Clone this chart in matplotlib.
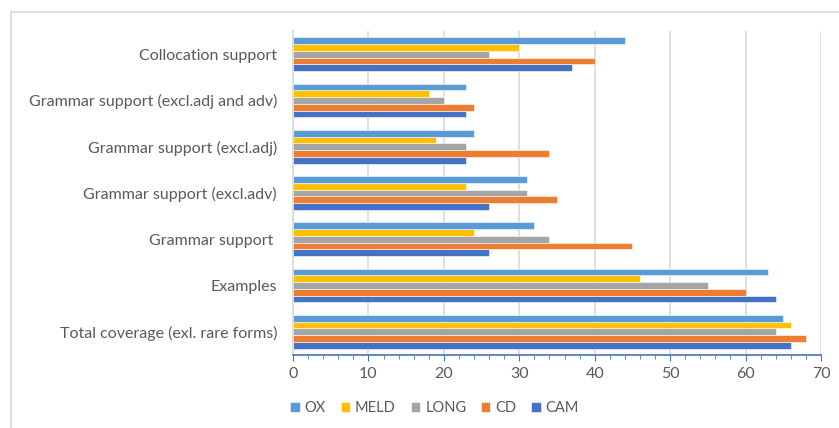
import matplotlib.pyplot as plt
import numpy as np
from matplotlib.lines import Line2D

categories = ['Total coverage (exl. rare forms)', 'Examples', 'Grammar support ',
              'Grammar support (excl.adv)', 'Grammar support (excl.adj)',
              'Grammar support (excl.adj and adv)', 'Collocation support']

cam = [66, 64, 26, 26, 23, 23, 37]
cd = [68, 60, 45, 35, 34, 24, 40]
long_ = [64, 55, 34, 31, 23, 20, 26]
meld = [66, 46, 24, 23, 19, 18, 30]
ox = [65, 63, 32, 31, 24, 23, 44]

series = [('CAM', cam, '#4472C4'), ('CD', cd, '#ED7D31'), ('LONG', long_, '#A5A5A5'),
          ('MELD', meld, '#FFC000'), ('OX', ox, '#5B9BD5')]

plt.rcParams['font.family'] = ['Lato', 'DejaVu Sans']
txt = '#595959'
grid = '#D9D9D9'

fig = plt.figure(figsize=(8.39, 4.28), dpi=100)
ax = fig.add_axes([293 / 839, 1 - 355 / 428, 528 / 839, 324 / 428])

y = np.arange(len(categories))
h = 0.146
for i, (name, vals, col) in enumerate(series):
    ax.barh(y + (i - 2) * h, vals, height=h, color=col, label=name,
            edgecolor='white', linewidth=0.4)

ax.set_xlim(0, 70)
ax.set_ylim(-0.5, 6.5)
ax.set_xticks(np.arange(0, 71, 10))
ax.set_xticks(np.arange(0, 71, 2), minor=True)
ax.set_yticks(y)
ax.set_yticklabels(categories)
ax.tick_params(axis='y', length=0, pad=11.5, labelsize=11.5, labelcolor=txt)
ax.tick_params(axis='x', which='major', length=4, color='#4472C4', labelsize=11.5,
               labelcolor=txt, pad=5)
ax.tick_params(axis='x', which='minor', length=3, color='#4472C4')
ax.grid(axis='x', color=grid, linewidth=1.2)
ax.set_axisbelow(True)
for s in ['top', 'right']:
    ax.spines[s].set_visible(False)
ax.spines['left'].set_color(grid)
ax.spines['left'].set_linewidth(1.2)
ax.spines['bottom'].set_color('#4472C4')
ax.spines['bottom'].set_linewidth(1.2)

# chart area border (cropped at right and bottom)
fig.add_artist(Line2D([11 / 839, 1], [1 - 12 / 428, 1 - 12 / 428], color=grid, lw=1.2,
                      transform=fig.transFigure))
fig.add_artist(Line2D([11 / 839, 11 / 839], [0, 1 - 12 / 428], color=grid, lw=1.2,
                      transform=fig.transFigure))

handles, labels = ax.get_legend_handles_labels()
fig.legend(handles[::-1], labels[::-1], loc='center', bbox_to_anchor=(0.518, 0.047),
           ncol=5, frameon=False, fontsize=10.5, labelcolor=txt, handlelength=0.65,
           handleheight=0.65, handletextpad=0.35, columnspacing=1.0)

fig.savefig('out.png', dpi=100)
